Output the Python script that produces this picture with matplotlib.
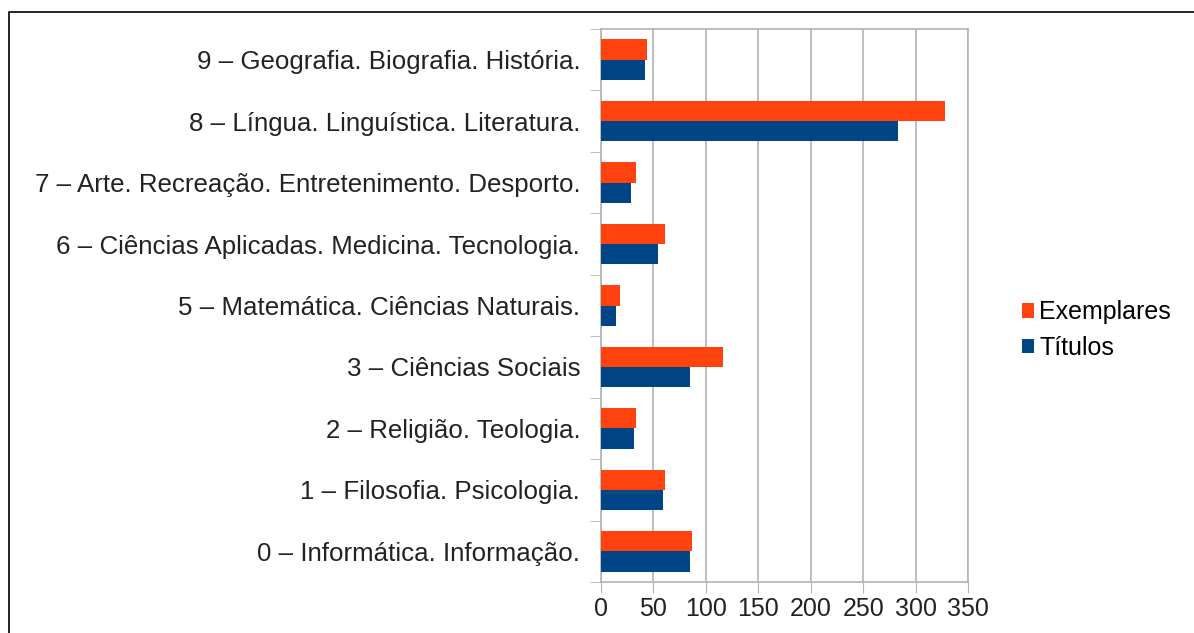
import matplotlib
matplotlib.use('Agg')
import matplotlib.pyplot as plt
import numpy as np

plt.rcParams['font.family'] = ['Liberation Sans', 'DejaVu Sans']

categories = [
    '0 – Informática. Informação.',
    '1 – Filosofia. Psicologia.',
    '2 – Religião. Teologia.',
    '3 – Ciências Sociais',
    '5 – Matemática. Ciências Naturais.',
    '6 – Ciências Aplicadas. Medicina. Tecnologia.',
    '7 – Arte. Recreação. Entretenimento. Desporto.',
    '8 – Língua. Linguística. Literatura.',
    '9 – Geografia. Biografia. História.',
]
exemplares = [87, 61, 33, 116, 18, 61, 33, 328, 44]
titulos = [85, 59, 31, 85, 14, 54, 29, 283, 42]

ORANGE = '#ff420e'
BLUE = '#004586'
GRID = '#b3b3b3'
FS = 18

fig = plt.figure(figsize=(11.94, 6.33), dpi=100)
ax = fig.add_axes([601 / 1194, 1 - 582 / 633, 367 / 1194, 553 / 633])

y = np.arange(len(categories))
h = 0.33
ax.barh(y + h / 2, exemplares, height=h, color=ORANGE, label='Exemplares', zorder=3)
ax.barh(y - h / 2, titulos, height=h, color=BLUE, label='Títulos', zorder=3)

ax.set_xlim(0, 350)
ax.set_ylim(-0.5, len(categories) - 0.5)
ax.set_xticks(np.arange(0, 351, 50))
ax.set_yticks(y)
ax.set_yticklabels(categories)
ax.set_yticks(np.arange(-0.5, len(categories), 1), minor=True)
ax.tick_params(axis='y', which='major', length=0, pad=15, labelsize=18.6, labelcolor='#222222')
ax.tick_params(axis='y', which='minor', length=8, color=GRID, direction='out')
ax.tick_params(axis='x', length=8, color=GRID, labelsize=FS, labelcolor='#222222', pad=3)
ax.grid(axis='x', color=GRID, linewidth=1.2, zorder=0)
for s in ax.spines.values():
    s.set_color(GRID)
    s.set_linewidth(1.2)

handles, labels = ax.get_legend_handles_labels()
fig.legend(handles, labels, loc='center left', bbox_to_anchor=(999 / 1194, 1 - 330 / 633),
           frameon=False, fontsize=FS, handlelength=0.5, handleheight=0.5,
           handletextpad=0.2, labelspacing=0.45)

# outer frame
fig.add_artist(plt.Rectangle((9 / 1194, -0.01), 1.2, 1 - 12 / 633 + 0.01,
                             transform=fig.transFigure, fill=False,
                             edgecolor='black', linewidth=1.2))

fig.savefig('out.png', dpi=100)
